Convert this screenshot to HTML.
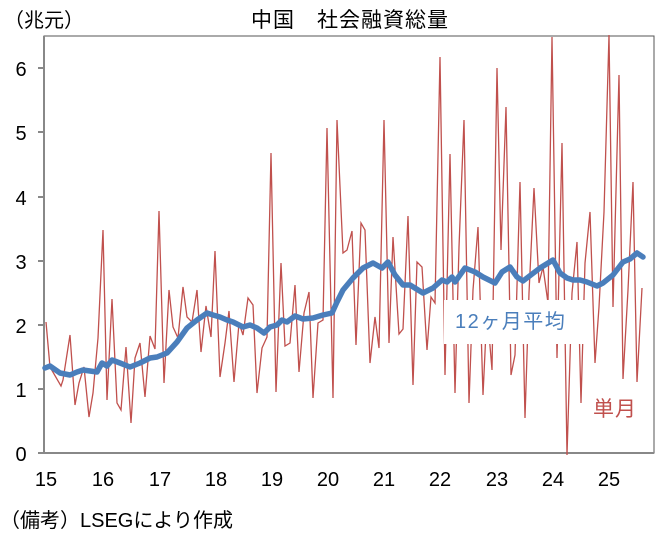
<!DOCTYPE html>
<html><head><meta charset="utf-8"><style>
body{margin:0;background:#fff;width:663px;height:533px;overflow:hidden}
svg text{font-family:"Liberation Sans","Noto Sans CJK JP",sans-serif}
</style></head><body>
<svg width="663" height="533" viewBox="0 0 663 533" xmlns="http://www.w3.org/2000/svg">
<text x="4" y="27" font-size="20" fill="#000">（兆元）</text>
<text x="350" y="27" font-size="21" fill="#000" text-anchor="middle" letter-spacing="1">中国　社会融資総量</text>
<rect x="44" y="36" width="610" height="417" fill="none" stroke="#555" stroke-width="1"/>
<g stroke="#888" stroke-width="2">
<line x1="44" y1="36" x2="44" y2="454"/><line x1="43" y1="453" x2="654" y2="453"/>
<line x1="38" y1="453" x2="44" y2="453"/><line x1="38" y1="389" x2="44" y2="389"/><line x1="38" y1="325" x2="44" y2="325"/><line x1="38" y1="261" x2="44" y2="261"/><line x1="38" y1="197" x2="44" y2="197"/><line x1="38" y1="132" x2="44" y2="132"/><line x1="38" y1="68" x2="44" y2="68"/>
</g>
<g font-size="20" fill="#000" text-anchor="middle">
<text x="21" y="461">0</text><text x="21" y="397">1</text><text x="21" y="333">2</text><text x="21" y="269">3</text><text x="21" y="205">4</text><text x="21" y="140">5</text><text x="21" y="76">6</text>
<text x="46" y="486">15</text><text x="103" y="486">16</text><text x="160" y="486">17</text><text x="216" y="486">18</text><text x="272" y="486">19</text><text x="328" y="486">20</text><text x="384" y="486">21</text><text x="440" y="486">22</text><text x="497" y="486">23</text><text x="553" y="486">24</text><text x="609" y="486">25</text>
</g>
<polyline fill="none" stroke="#c0504d" stroke-width="1.3" points="46,322 50,367 61,386 63,380 70,335 75,405 79,383 84,367 89,417 93,393 98,338 103,230 107,400 112,299 117,403 121,410 126,347 131,423 135,358 140,343 145,397 150,336 155,349 159,211 164,383 169,290 173,327 178,338 183,287 187,317 192,322 197,290 201,352 206,306 211,337 215,251 220,377 225,343 229,311 234,382 239,323 243,335 248,298 253,305 257,393 262,348 267,337 271,153 276,392 281,263 285,346 290,343 295,285 299,372 304,313 309,292 313,398 318,323 323,320 327,128 333,398 337,120 343,253 347,250 352,231 356,345 361,223 365,230 370,363 375,317 379,348 384,120 389,343 393,237 399,334 403,329 408,216 413,385 417,262 422,267 427,350 431,297 435,303 440,57 445,375 450,154 455,393 459,247 464,120 469,403 473,290 478,227 483,395 487,310 492,370 497,68 501,250 506,107 511,375 515,355 520,182 525,418 529,293 534,188 539,283 543,267 548,303 552,37 557,358 562,143 567,455 572,293 577,242 581,403 585,263 590,212 595,363 599,307 604,212 609,35 613,307 619,75 623,379 628,290 633,182 637,382 642,288"/>
<rect x="444" y="300" width="146" height="44" fill="#fff"/>
<rect x="586" y="390" width="52" height="32" fill="#fff"/>
<polyline fill="none" stroke="#4a7ebb" stroke-width="5.5" stroke-linejoin="round" stroke-linecap="round" points="45,368 50,366 60,373 70,375 77,372 83,370 97,372 102,363 107,366 112,360 120,363 130,367 140,363 150,358 157,357 167,353 177,342 187,328 197,320 207,313 213,315 220,317 227,320 233,322 243,327 250,325 257,328 264,333 270,327 277,325 282,320 287,322 295,316 303,319 313,318 323,315 332,313 337,302 343,290 353,278 363,268 373,263 382,268 388,262 395,275 403,285 410,285 423,293 433,288 442,280 447,282 452,277 455,282 465,268 475,272 483,277 495,283 502,272 510,267 517,277 523,281 540,268 553,260 560,273 567,278 573,280 580,280 587,282 597,286 603,283 613,275 623,262 630,259 637,253 643,257"/>
<text x="455" y="328" font-size="20" fill="#4a7ebb" letter-spacing="1.5">12ヶ月平均</text>
<text x="593" y="416" font-size="21" fill="#c0504d" letter-spacing="1">単月</text>
<text x="0" y="527" font-size="20" fill="#000">（備考）LSEGにより作成</text>
</svg>
</body></html>
